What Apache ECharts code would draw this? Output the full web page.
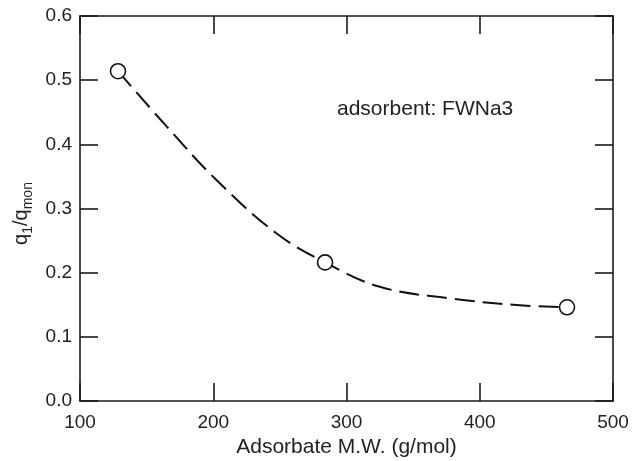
<!DOCTYPE html>
<html>
<head>
<meta charset="utf-8">
<script src="https://cdn.jsdelivr.net/npm/echarts@6/dist/echarts.min.js"></script>
<style>html,body{margin:0;padding:0;background:#fff}#c{width:639px;height:461px}</style>
</head>
<body>
<div id="c"></div>
<script>
// measured points (Adsorbate M.W., q1/qmon)
var pointsX = [128.5, 283.9, 465.5];
var pointsY = [0.514, 0.216, 0.146];
// dashed fitted curve
var curveX = [128.5, 165, 202.6, 247.6, 283.9, 325, 377.7, 427.7, 465.5];
var curveY = [0.514, 0.428, 0.344, 0.261, 0.216, 0.178, 0.160, 0.1496, 0.146];
var xTicks = [100, 200, 300, 400, 500];
var yTicks = [0.0, 0.1, 0.2, 0.3, 0.4, 0.5, 0.6];
var annotation = 'adsorbent: FWNa3';

var FONT = '"Liberation Sans", Arial, sans-serif';
var AX = '#1a1a1a';

function zip(a, b) { return a.map(function (v, i) { return [v, b[i]]; }); }

var chart = echarts.init(document.getElementById('c'), null, {renderer: 'canvas'});
var axisLineStyle = {color: AX, width: 1.6};
var tickStyle = {show: true, inside: true, length: 18, lineStyle: {color: AX, width: 1.6}};

chart.setOption({
  animation: false,
  backgroundColor: '#fff',
  grid: {left: 80, right: 26, top: 16, bottom: 60, containLabel: false, outerBoundsMode: 'none'},
  xAxis: [{
    type: 'value', min: 100, max: 500, interval: 100, position: 'bottom',
    axisLine: {show: true, onZero: false, lineStyle: axisLineStyle},
    axisTick: tickStyle, splitLine: {show: false},
    axisLabel: {color: '#222', fontFamily: FONT, fontSize: 19, margin: 12,
      formatter: function (v) { return xTicks.indexOf(v) >= 0 ? String(v) : ''; }},
    name: 'Adsorbate M.W. (g/mol)', nameLocation: 'middle', nameGap: 36,
    nameTextStyle: {color: '#222', fontFamily: FONT, fontSize: 21}
  }, {
    type: 'value', min: 100, max: 500, interval: 100, position: 'top',
    axisLine: {show: true, onZero: false, lineStyle: axisLineStyle},
    axisTick: tickStyle, axisLabel: {show: false}, splitLine: {show: false}
  }],
  yAxis: [{
    type: 'value', min: 0, max: 0.6, interval: 0.1, position: 'left',
    axisLine: {show: true, onZero: false, lineStyle: axisLineStyle},
    axisTick: tickStyle, splitLine: {show: false},
    axisLabel: {color: '#222', fontFamily: FONT, fontSize: 19, margin: 8,
      formatter: function (v) {
        var t = yTicks.find(function (y) { return Math.abs(y - v) < 1e-9; });
        return t === undefined ? '' : t.toFixed(1);
      }},
    name: '{a|q}{s|1}{a|/q}{s|mon}', nameLocation: 'middle', nameGap: 46, nameRotate: 90,
    nameTextStyle: {
      color: '#222', fontFamily: FONT, padding: [0, 0, 0, -10],
      rich: {
        a: {fontFamily: FONT, fontSize: 20, color: '#222', lineHeight: 23, verticalAlign: 'bottom'},
        s: {fontFamily: FONT, fontSize: 14, color: '#222', lineHeight: 13, verticalAlign: 'bottom', padding: [0, 0, -3, 0]}
      }
    }
  }, {
    type: 'value', min: 0, max: 0.6, interval: 0.1, position: 'right',
    axisLine: {show: true, onZero: false, lineStyle: axisLineStyle},
    axisTick: tickStyle, axisLabel: {show: false}, splitLine: {show: false}
  }],
  series: [{
    type: 'line', name: 'curve', data: zip(curveX, curveY), smooth: 0.4,
    showSymbol: false, symbol: 'none', z: 2,
    lineStyle: {color: '#111', width: 2, type: [20, 8]}
  }, {
    type: 'scatter', name: 'points', data: zip(pointsX, pointsY),
    symbol: 'circle', symbolSize: 15, z: 5,
    itemStyle: {color: '#fff', opacity: 1, borderColor: '#111', borderWidth: 1.6}
  }],
  graphic: [{
    type: 'text', x: 337, y: 120,
    style: {text: annotation, font: '21px ' + FONT, fill: '#222', textBaseline: 'alphabetic', verticalAlign: 'bottom'}
  }]
});
</script>
</body>
</html>
